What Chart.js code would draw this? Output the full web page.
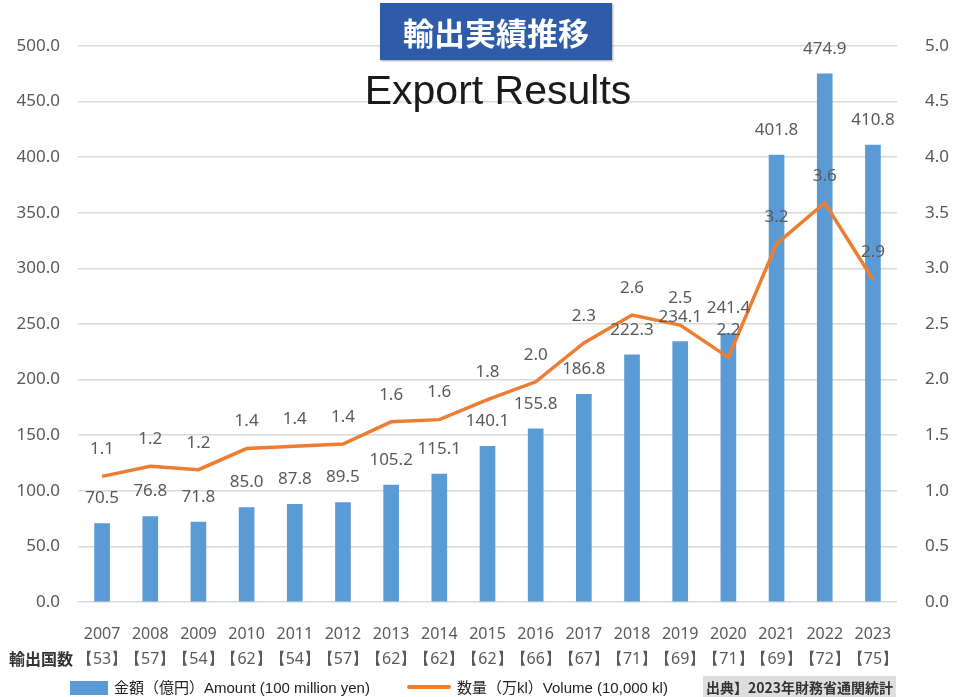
<!DOCTYPE html>
<html>
<head>
<meta charset="utf-8">
<script src="https://cdn.jsdelivr.net/npm/chart.js@4"></script>
<style>
  body { margin: 0; background: #fff; }
  #wrap { position: relative; width: 961px; height: 697px; }
  #titleBox {
    position: absolute; left: 380px; top: 3px; width: 232px; height: 57px;
    background: #2e5ca8; color: #fff; font: bold 31px "Noto Sans CJK JP";
    text-align: center; line-height: 57px; box-shadow: 1px 1px 2px rgba(0,0,0,0.35);
  }
  #subTitle {
    position: absolute; left: 298px; top: 67px; width: 400px; text-align: center;
    font: 41px "Liberation Sans", Arial; color: #1a1a1a;
  }
  #countLabel {
    position: absolute; left: 9px; top: 646px; font: bold 16px "Noto Sans CJK JP"; color: #333;
  }
  .legend { position: absolute; top: 676px; font: 15px "Liberation Sans", "Noto Sans CJK JP"; color: #222; white-space: nowrap; }
  #source {
    position: absolute; left: 703px; top: 676px; background: #dedede; padding: 0 3px;
    font: bold 14px "Noto Sans CJK JP"; color: #333; line-height: 22px;
  }
</style>
</head>
<body>
<div id="wrap">
  <canvas id="chart" width="961" height="697"></canvas>
  <div id="titleBox">輸出実績推移</div>
  <div id="subTitle">Export Results</div>
  <div id="countLabel">輸出国数</div>
  <div class="legend" style="left:70px;">
    <span style="display:inline-block;width:38px;height:14px;background:#5b9bd5;vertical-align:-2px;margin-right:6px;"></span>金額（億円）Amount (100 million yen)
  </div>
  <div class="legend" style="left:407px;">
    <span style="display:inline-block;width:44px;height:4px;background:#ed7d31;border-radius:2px;vertical-align:4px;margin-right:6px;"></span>数量（万kl）Volume (10,000 kl)
  </div>
  <div id="source">出典】2023年財務省通関統計</div>
</div>
<script>
const years = ['2007','2008','2009','2010','2011','2012','2013','2014','2015','2016','2017','2018','2019','2020','2021','2022','2023'];
const countries = ['53','57','54','62','54','57','62','62','62','66','67','71','69','71','69','72','75'];
const amounts = [70.5, 76.8, 71.8, 85.0, 87.8, 89.5, 105.2, 115.1, 140.1, 155.8, 186.8, 222.3, 234.1, 241.4, 401.8, 474.9, 410.8];
const volumes = [1.13, 1.22, 1.19, 1.38, 1.40, 1.42, 1.62, 1.64, 1.82, 1.98, 2.33, 2.58, 2.49, 2.20, 3.22, 3.59, 2.90];

const tickFont = { family: 'Noto Sans', size: 17 };
const tickColor = '#595959';

// draws value labels above bars and line points
const valueLabels = {
    id: 'valueLabels',
    afterDatasetsDraw(chart) {
        const ctx = chart.ctx;
        ctx.save();
        ctx.font = '17px "Noto Sans"';
        ctx.fillStyle = '#595959';
        ctx.textAlign = 'center';
        ctx.textBaseline = 'middle';
        chart.getDatasetMeta(0).data.forEach((el, i) => {
            ctx.fillText(amounts[i].toFixed(1), el.x, el.y - 25);
        });
        chart.getDatasetMeta(1).data.forEach((el, i) => {
            ctx.fillText(volumes[i].toFixed(1), el.x, el.y - 27);
        });
        ctx.restore();
    }
};

new Chart(document.getElementById('chart'), {
    data: {
        labels: years.map((y, i) => [y, '【' + countries[i] + '】']),
        datasets: [{
            type: 'bar',
            label: '金額（億円）Amount (100 million yen)',
            data: amounts,
            yAxisID: 'y',
            backgroundColor: '#5b9bd5',
            barThickness: 15,
            order: 1
        }, {
            type: 'line',
            label: '数量（万kl）Volume (10,000 kl)',
            data: volumes,
            yAxisID: 'y2',
            borderColor: '#ed7d31',
            borderWidth: 3.5,
            pointRadius: 0,
            tension: 0,
            order: 0
        }]
    },
    options: {
        responsive: false,
        animation: false,
        layout: { padding: { top: 46, left: 0, right: 0, bottom: 0 } },
        plugins: { legend: { display: false }, tooltip: { enabled: false } },
        scales: {
            x: {
                grid: { display: false },
                border: { display: false },
                ticks: { color: tickColor, font: { family: 'Noto Sans', size: 16, lineHeight: 1.55 }, padding: 12, maxRotation: 0, autoSkip: false },
                afterFit(s) { s.height = 95; }
            },
            y: {
                position: 'left',
                min: 0, max: 500,
                ticks: { stepSize: 50, color: tickColor, font: tickFont, padding: 18, callback: v => v.toFixed(1) },
                grid: { color: '#d9d9d9', lineWidth: 1.5, drawTicks: false },
                border: { display: false },
                afterFit(s) { s.width = 78; }
            },
            y2: {
                position: 'right',
                min: 0, max: 5,
                ticks: { stepSize: 0.5, color: tickColor, font: tickFont, padding: 20, callback: v => v.toFixed(1) },
                grid: { display: false },
                border: { display: false },
                afterFit(s) { s.width = 64; }
            }
        }
    },
    plugins: [valueLabels]
});
</script>
</body>
</html>
